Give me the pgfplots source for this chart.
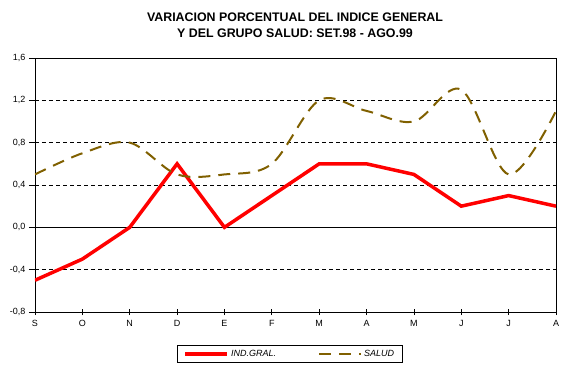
\documentclass[border=0pt]{standalone}
\usepackage{pgfplots}
\pgfplotsset{compat=1.18}
\usepackage{fontspec}
\setmainfont{Liberation Sans}
\definecolor{salud}{RGB}{128,96,0}
\begin{document}
\begin{tikzpicture}
\path[use as bounding box] (0pt,0pt) rectangle (570pt,368pt);
\node[font=\bfseries\fontsize{12.4}{16}\selectfont, align=center] at (295pt,343pt)
  {VARIACION PORCENTUAL DEL INDICE GENERAL\\Y DEL GRUPO SALUD: SET.98 - AGO.99};
\begin{axis}[
  at={(35pt,56pt)}, anchor=south west,
  scale only axis, width=521pt, height=254pt,
  xmin=0, xmax=11, ymin=-0.8, ymax=1.6,
  xtick={0,...,11},
  xticklabels={S,O,N,D,E,F,M,A,M,J,J,A},
  ytick={-0.8,-0.4,0,0.4,0.8,1.2,1.6},
  yticklabels={{-0,8},{-0,4},{0,0},{0,4},{0,8},{1,2},{1,6}},
  tick label style={font=\fontsize{9}{10}\selectfont},
  xtick pos=bottom, ytick pos=left,
  x tick style={black, line width=0.8pt},
  y tick style={black, line width=0.8pt},
  xtick align=center, ytick align=outside,
  major tick length=6pt,
  axis line style={line width=0.9pt},
  ymajorgrids,
  major grid style={black, line width=0.8pt, dash pattern=on 4pt off 3pt},
  xticklabel style={yshift=-2pt},
  legend columns=2,
  legend style={at={(0.489,-0.165)}, anchor=center, draw=black, line width=0.8pt,
    font=\itshape\fontsize{9}{10}\selectfont, inner xsep=6pt, inner ysep=3pt},
  legend cell align=left,
  /tikz/every even column/.append style={column sep=40pt},
  legend image code/.code={\draw[#1] (0pt,0pt) -- (42pt,0pt);},
]
\draw[black, line width=0.9pt] (axis cs:0,0) -- (axis cs:11,0);
\addplot[red, line width=3.5pt] coordinates {
 (0,-0.5) (1,-0.3) (2,0.0) (3,0.6) (4,0.0) (5,0.3) (6,0.6) (7,0.6) (8,0.5) (9,0.2) (10,0.3) (11,0.2)};
\addlegendentry{IND.GRAL.}
\addplot[salud, line width=2pt, smooth, tension=0.55, dash pattern=on 12pt off 8pt] coordinates {
 (0,0.5) (1,0.7) (2,0.8) (3,0.5) (4,0.5) (5,0.6) (6,1.2) (7,1.1) (8,1.0) (9,1.3) (10,0.5) (11,1.1)};
\addlegendentry{SALUD}
\end{axis}
\end{tikzpicture}
\end{document}
